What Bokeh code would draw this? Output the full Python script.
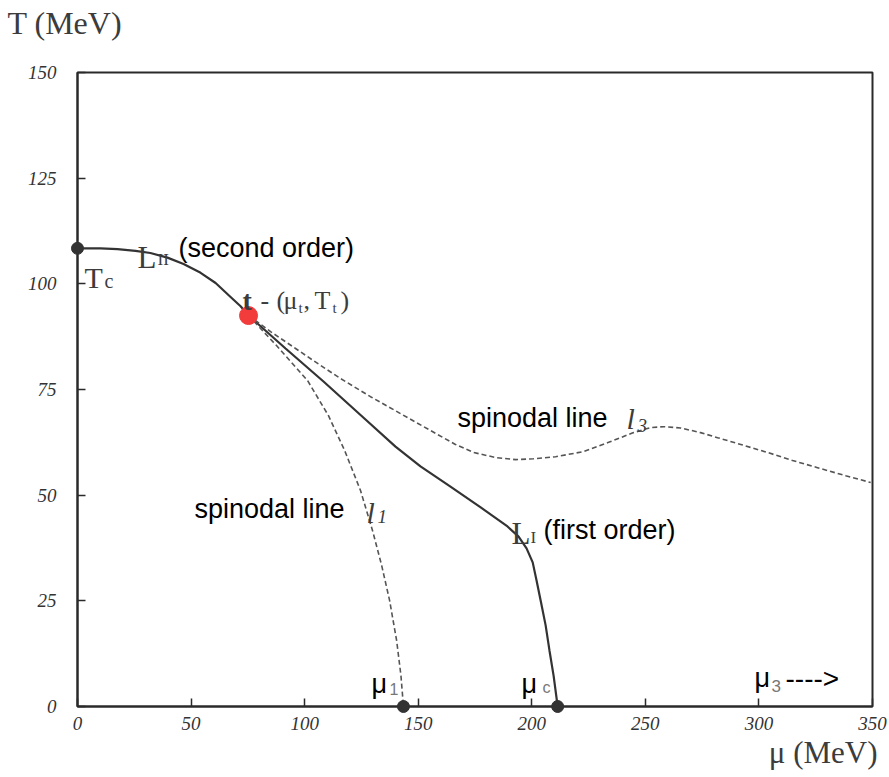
from bokeh.plotting import figure
from bokeh.models import Label, FixedTicker, Range1d, Title
from bokeh.embed import file_html
from bokeh.resources import INLINE

# ---------------- data ----------------
x_ticks = [0, 50, 100, 150, 200, 250, 300, 350]
y_ticks = [0, 25, 50, 75, 100, 125, 150]

# second-order line L_II (from T_c to tricritical point t)
l2_mu = [0, 10.1, 17.6, 25.5, 32.1, 39.6, 46.7, 54.2, 60.8, 67.4, 71.8, 75.3]
l2_T = [108.4, 108.4, 108.2, 107.8, 107.3, 106.2, 104.7, 102.6, 100.2, 96.9, 94.7, 92.5]

# first-order line L_I (from t to mu_c)
l1st_mu = [75.3, 91.6, 108.3, 126.8, 140.0, 151.0, 164.2, 177.5, 189.3, 194.2, 197.7,
           200.4, 202.1, 203.9, 206.1, 207.8, 209.6, 211.4]
l1st_T = [92.5, 84.7, 76.9, 67.9, 61.5, 56.8, 52.0, 47.1, 42.6, 40.2, 37.4,
          34.1, 29.8, 25.1, 19.2, 13.2, 7.3, 0.0]

# spinodal line l1
sp1_mu = [75.3, 87.6, 101.3, 110.5, 117.6, 124.6, 129.9, 133.9, 137.4, 140.5, 142.4, 143.5]
sp1_T = [92.5, 85.4, 77.1, 68.8, 60.6, 51.1, 41.6, 33.4, 25.1, 15.6, 7.3, 0.0]

# spinodal line l3
sp3_mu = [75.3, 85.0, 96.0, 107.0, 115.8, 129.0, 142.2, 155.4, 166.4, 174.4, 184.1, 192.9,
          200.8, 210.5, 222.8, 233.8, 244.8, 252.3, 258.0, 265.5, 274.3, 281.8, 292.0,
          303.8, 314.8, 325.8, 338.2, 349.2]
sp3_T = [92.5, 88.7, 84.7, 80.7, 77.6, 73.3, 69.3, 65.3, 62.0, 60.1, 58.9, 58.4,
         58.6, 59.1, 60.3, 62.5, 64.8, 66.0, 66.2, 65.9, 64.8, 63.6, 62.0,
         60.1, 58.2, 56.5, 54.6, 53.0]

# special points
tc_mu, tc_T = [0], [108.4]
t_mu, t_T = [75.3], [92.5]
ends_mu, ends_T = [143.5, 211.4], [0, 0]

# ---------------- geometry ----------------
W, H = 889, 777
X0, X1, YB, YT = 77, 872, 706, 72

p = figure(width=W, height=H, output_backend="svg", toolbar_location=None,
           x_range=Range1d(0, 350), y_range=Range1d(0, 150),
           min_border_left=X0, min_border_right=W - X1,
           min_border_top=YT, min_border_bottom=H - YB)
p.background_fill_color = "white"
p.border_fill_color = "white"
p.xgrid.visible = False
p.ygrid.visible = False
p.outline_line_color = "#2a2a2a"
p.outline_line_width = 2

SERIF = "Liberation Serif"
SANS = "Liberation Sans"
GREY = "#3c3c3c"

for ax, tk, so in ((p.xaxis[0], x_ticks, 10), (p.yaxis[0], y_ticks, 21)):
    ax.ticker = FixedTicker(ticks=tk)
    ax.axis_line_color = "#2a2a2a"
    ax.axis_line_width = 2
    ax.major_tick_in = 8
    ax.major_tick_out = 0
    ax.major_tick_line_color = "#2a2a2a"
    ax.major_tick_line_width = 1.5
    ax.minor_tick_line_color = None
    ax.major_label_text_font = SERIF
    ax.major_label_text_font_style = "italic"
    ax.major_label_text_font_size = "19px"
    ax.major_label_text_color = "#333333"
    ax.major_label_standoff = so

# y-axis title at top left (plot title, outermost) plus a blank spacer nearer the frame
p.title.text = "T (MeV)"
p.title.text_font = SERIF
p.title.text_font_size = "32px"
p.title.text_font_style = "normal"
p.title.text_color = GREY
p.title.align = "left"
p.title.offset = -70
p.title.standoff = 0
p.add_layout(Title(text=" ", text_font_size="20px", standoff=8), "above")

# x-axis title at bottom right
p.add_layout(Title(text="μ (MeV)", text_font=SERIF, text_font_size="31px",
                   text_font_style="normal", text_color=GREY, align="right",
                   offset=-5, standoff=0), "below")

# curves
p.line(l2_mu, l2_T, line_color="#333333", line_width=2.2)
p.line(l1st_mu, l1st_T, line_color="#333333", line_width=2.2)
p.line(sp1_mu, sp1_T, line_color="#555555", line_width=1.6, line_dash="5 3")
p.line(sp3_mu, sp3_T, line_color="#555555", line_width=1.6, line_dash="5 3")

# points
p.scatter(tc_mu, tc_T, size=12, fill_color="#333333", line_color="#333333", level="overlay")
p.scatter(ends_mu, ends_T, size=12, fill_color="#333333", line_color="#333333", level="overlay")
p.scatter(t_mu, t_T, size=18, fill_color="#f23b3b", line_color="#f23b3b", level="overlay")


def dx(px):
    return (px - X0) / (X1 - X0) * 350.0


def dy(py):
    return (YB - py) / (YB - YT) * 150.0


def lab(text, px, py, size, font=SERIF, color=GREY, style="normal"):
    p.add_layout(Label(x=dx(px), y=dy(py), text=text, text_font=font,
                       text_font_size=f"{size}px", text_color=color,
                       text_font_style=style, text_baseline="alphabetic",
                       text_align="left", level="overlay"))


# L_II (second order)
lab("L", 137, 257, 31)
lab("II", 157, 259, 17)
lab("(second order)", 178, 247, 27, font=SANS, color="black")

# T_c
lab("T", 84, 277, 30)
lab("c", 104, 280, 20)

# t - (mu_t, T_t)
lab("t", 242, 300, 28, style="bold")
lab("-", 260, 300, 26)
lab("(", 276, 300, 26)
lab("μ", 283, 300, 26)
lab("t", 298, 307, 15)
lab(",", 303, 300, 26)
lab("T", 314, 300, 26)
lab("t", 332, 307, 15)
lab(")", 340, 300, 26)

# spinodal labels
lab("spinodal line", 457, 417, 27, font=SANS, color="black")
lab("l", 626, 418, 30, style="italic")
lab("3", 637, 425, 19, style="italic")
lab("spinodal line", 194, 508, 27, font=SANS, color="black")
lab("l", 366, 512, 30, style="italic")
lab("1", 377, 516, 19, style="italic")

# L_I (first order)
lab("L", 511, 533, 31)
lab("I", 530, 537, 17)
lab("(first order)", 543, 529, 27, font=SANS, color="black")

# mu labels on axis
lab("μ", 371, 683, 27, font=SANS, color="black")
lab("1", 389, 688, 16, font=SANS, color="#777777")
lab("μ", 521, 683, 27, font=SANS, color="black")
lab("c", 542, 687, 16, font=SANS, color="#777777")
lab("μ", 754, 677, 27, font=SANS, color="black")
lab("3", 771, 685, 17, font=SANS, color="#777777")
lab("---->", 785, 678, 28, font=SANS, color="black")

open("out.html", "w").write(file_html(p, INLINE))
